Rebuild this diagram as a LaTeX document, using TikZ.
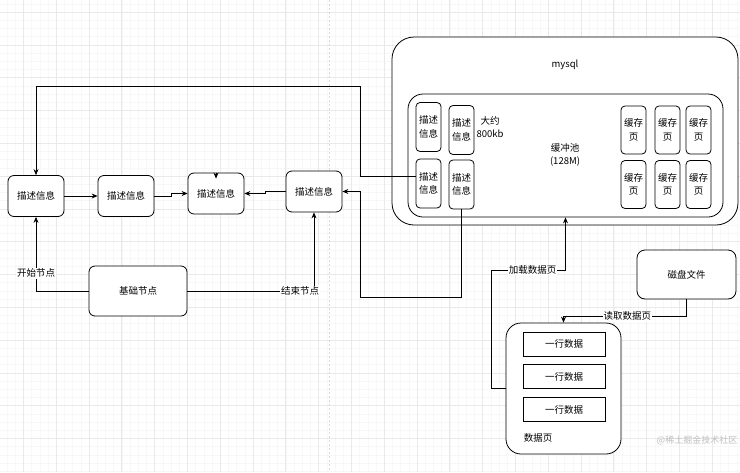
\documentclass[tikz,border=0pt]{standalone}
\usepackage{fontspec}
\setmainfont{Noto Sans CJK SC}
\usetikzlibrary{arrows.meta,positioning}
\tikzset{
  >={Stealth[length=6pt,width=5pt]},
  txt/.style={font=\fontsize{9.5}{13.5}\selectfont,align=center},
  box/.style={draw,fill=white,line width=0.8pt,rounded corners=#1,txt,inner sep=0pt},
  box/.default=6pt,
  info/.style={box,minimum width=56pt,minimum height=41pt},
  slim/.style={box=4pt,minimum width=25pt,minimum height=49pt},
  row/.style={draw,fill=white,line width=0.8pt,txt,minimum width=82pt,minimum height=24pt},
  link/.style={->,line width=0.8pt},
  lbl/.style={txt,fill=white,inner sep=1pt},
  gridminor/.style={gray!6,line width=0.4pt},
  gridmajor/.style={gray!17,line width=0.5pt},
}
\begin{document}
\begin{tikzpicture}[x=1pt,y=-1pt]
  \useasboundingbox (0,0) rectangle (740,472);
  % background grid
  \fill[white] (0,0) rectangle (740,472);
  \foreach \i in {0,...,89} \draw[gridminor] ({6.9+8.2*\i},0) -- ++(0,472);
  \foreach \j in {0,...,57} \draw[gridminor] (0,{3.8+8.2*\j}) -- ++(740,0);
  \foreach \i in {0,...,21} \draw[gridmajor] ({23.3+32.8*\i},0) -- ++(0,472);
  \foreach \j in {0,...,13} \draw[gridmajor] (0,{12+32.8*\j}) -- ++(740,0);
  \draw[gray!30,line width=0.8pt,dash pattern=on 2pt off 2pt] (329,0) -- (329,472);

  % left chain
  \node[info] (a) at (36,196) {描述信息};
  \node[info] (b) at (126,196) {描述信息};
  \node[info] (c) at (216,193.5) {描述信息};
  \node[info] (d) at (314,191.5) {描述信息};
  \node[info,minimum width=98pt,minimum height=50pt] (base) at (138,291) {基础节点};

  % mysql and buffer pool
  \node[box=22pt,minimum width=346pt,minimum height=188pt] (mysql) at (565,131) {};
  \node[txt] (mysqltxt) at (565,65) {mysql};
  \node[box=15pt,minimum width=315pt,minimum height=123pt] (pool) at (565.5,155.5) {};
  \node[txt] (pooltxt) at (565,155) {缓冲池\\(128M)};
  \node[slim] (s1) at (428.5,127) {描述\\信息};
  \node[slim] (s2) at (461.5,130) {描述\\信息};
  \node[slim] (s3) at (428.5,183.5) {描述\\信息};
  \node[slim] (s4) at (461.5,184.5) {描述\\信息};
  \node[txt] (size) at (490,127) {大约\\800kb};
  \foreach \x [count=\k] in {633.5,667.5,698.5}{
    \node[slim,minimum height=48pt] (up\k) at (\x,130) {缓存\\页};
    \node[slim,minimum height=48pt] (lo\k) at (\x,184.5) {缓存\\页};
  }

  % disk and data page
  \node[box=8pt,minimum width=99pt,minimum height=49pt] (disk) at (686.5,274.5) {磁盘文件};
  \node[box=15pt,minimum width=115pt,minimum height=131pt] (page) at (563.5,388.5) {};
  \node[txt] (pagetxt) at (538,438) {数据页};
  \node[row] (r1) at (564,344) {一行数据};
  \node[row] (r2) at (564,376.5) {一行数据};
  \node[row] (r3) at (564,409.5) {一行数据};
  \node[text=gray!50,font=\fontsize{9}{10}\selectfont] (mark) at (697,440) {@稀土掘金技术社区};

  % connectors
  \draw[link] (a) -- (b);
  \draw[link] (b.east) -- ++(17,0) |- (c.west);
  \draw[link] (d.west) -- ++(-20,0) |- (c.east);
  \draw[link] (c.north) -- ++(0,6);
  \draw[link] ([yshift=7pt]s3.west) -| (360,86) -| (a.north);
  \draw[link] (s4.south) |- (360,297) |- (d.east);
  \draw[link] (base.west) -| node[lbl,pos=0.62] {开始节点} (a.south);
  \draw[link] (base.east) -| node[lbl,pos=0.445] {结束节点} (d.south);
  \draw[link] (page.west) -| (491,270) -| node[lbl,pos=0.28] {加载数据页} (pool.south);
  \draw[link] (disk.south) -- ++(0,17) -| node[lbl,pos=0.24] {读取数据页} (page.north);
\end{tikzpicture}
\end{document}
